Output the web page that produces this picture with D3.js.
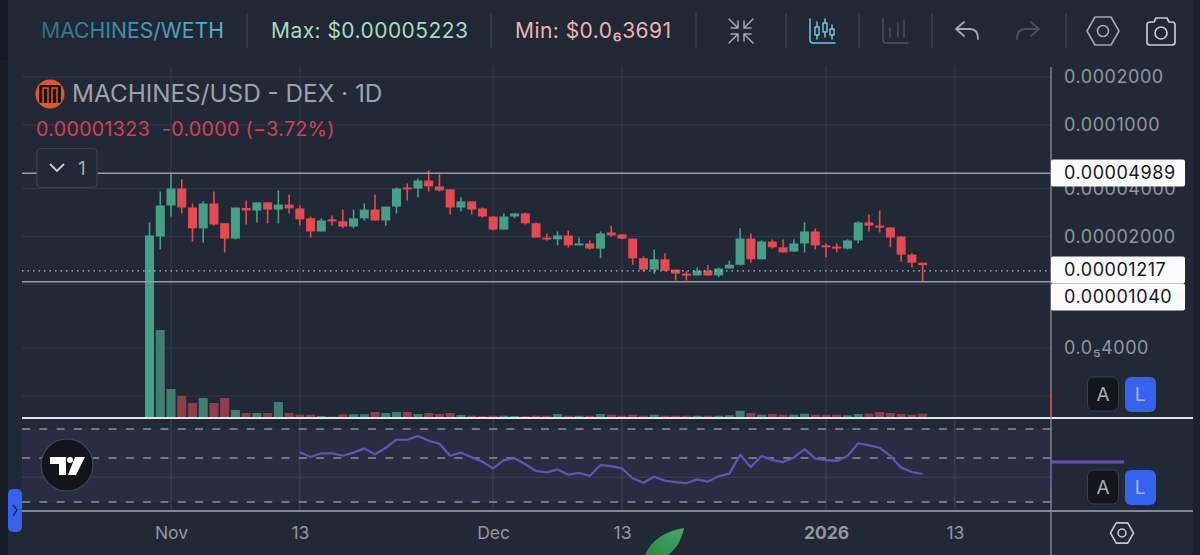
<!DOCTYPE html>
<html>
<head>
<meta charset="utf-8">
<script src="https://d3js.org/d3.v7.min.js"></script>
<style>
html, body { margin: 0; padding: 0; background: #222936; overflow: hidden; }
svg { display: block; font-family: Inter, "Noto Sans", sans-serif; }
.priceAxis text, .timeAxis text { fill: #9196a0; }
</style>
</head>
<body>
<div id="graphic"></div>
<script>
// prices are in units of 0.00001 USD (first open is the pair's min price)
var opens = [0.0369,2.00,3.13,4.00,3.04,2.25,3.22,2.42,1.94,3.02,2.91,3.27,2.95,3.17,3.00,2.60,2.15,2.56,2.49,2.31,2.60,2.95,2.52,3.08,4.06,4.00,4.49,4.12,3.95,3.04,3.32,3.00,2.67,2.21,2.67,2.79,2.42,1.97,1.92,2.03,1.76,1.81,1.68,2.12,2.06,1.94,1.46,1.24,1.44,1.24,1.17,1.14,1.22,1.14,1.26,1.33,1.94,1.44,1.86,1.71,1.61,1.81,2.15,1.76,1.73,1.68,1.89,2.45,2.34,2.28,2.00,1.54,1.37];
var highs = [2.45,3.83,4.97,4.56,3.22,3.32,3.83,2.42,3.04,3.36,3.27,3.27,3.89,3.67,3.13,2.67,2.60,2.71,2.95,2.95,3.22,3.67,3.08,4.06,4.30,4.62,5.19,4.90,3.95,3.52,3.32,3.04,2.67,2.79,2.79,2.83,2.45,2.09,2.15,2.18,1.97,1.89,2.15,2.34,2.06,1.94,1.50,1.66,1.57,1.24,1.21,1.28,1.32,1.28,1.41,2.25,2.09,1.89,1.92,1.92,1.92,2.45,2.25,1.81,1.81,1.92,2.49,2.75,2.91,2.28,2.00,1.57,1.37];
var lows = [0.0369,1.66,2.67,2.79,1.86,1.83,2.34,1.59,1.92,2.38,2.45,2.42,2.42,2.79,2.34,1.97,2.15,2.34,2.25,2.25,2.52,2.52,2.34,2.79,3.36,3.52,3.83,3.83,2.75,2.87,2.75,2.63,2.18,2.21,2.60,2.38,1.97,1.89,1.76,1.71,1.76,1.66,1.46,2.00,1.92,1.33,1.21,1.17,1.21,1.06,1.06,1.14,1.14,1.11,1.26,1.32,1.37,1.44,1.68,1.59,1.61,1.59,1.66,1.48,1.59,1.66,1.81,2.15,2.12,1.71,1.39,1.28,1.04];
var closes = [2.03,3.13,4.00,3.04,2.25,3.22,2.38,1.94,3.04,2.91,3.27,2.95,3.17,3.00,2.56,2.15,2.52,2.49,2.31,2.60,2.95,2.52,3.08,4.00,3.95,4.49,4.12,3.89,3.04,3.32,2.95,2.67,2.21,2.67,2.79,2.42,1.97,1.92,2.03,1.76,1.81,1.68,2.09,2.03,1.94,1.46,1.24,1.44,1.22,1.17,1.14,1.22,1.14,1.26,1.33,1.94,1.44,1.86,1.71,1.59,1.81,2.15,1.76,1.71,1.68,1.89,2.45,2.34,2.28,1.97,1.54,1.37,1.323];
var volumes = [125,88,29,22,15,20,15,20,8,5,5,5,16,5,3.3,3.3,2,1.5,3.7,3.7,3.7,6,5,6,6,4,5,4,5,3,2.3,1.7,2.3,2.3,2,1.7,2.3,2.3,4,2.3,2.3,2.3,4,3.3,2.3,3.3,2.3,3.3,2.3,2.3,2.3,2.3,2.3,2.3,2.7,7.3,5,3.3,4,3.3,3.3,4.3,3.3,3.3,3.3,2.7,4,4.3,6,5,4,3.3,4.3];
// RSI starts 14 days in
var rsi = [53.4,50.6,52.8,52.8,51.3,53.2,55.9,52.2,56.3,61.8,61.8,64.5,61.1,59.0,51.3,53.2,50.4,47.9,44.3,48.8,49.8,46.5,43.0,42.3,43.8,41.2,42.0,40.6,46.1,45.5,44.3,39.5,37.5,40.2,38.4,37.8,37.3,39.0,38.0,40.4,41.7,51.9,44.9,51.2,48.8,47.7,50.2,55.5,49.6,48.8,48.3,51.2,59.3,57.9,56.3,51.2,44.7,42.5,41.5];

var priceTicks = [2e-4, 1e-4, 4e-5, 2e-5, 4e-6];
var priceTickLabels = ["0.0002000", "0.0001000", "0.00004000", "0.00002000", "0.0\u20854000"];
var priceGrid = [2e-4, 1e-4, 4e-5, 2e-5, 1e-5, 4e-6, 2e-6];
var levels = [{price: 4.989e-5, label: "0.00004989"}, {price: 1.04e-5, label: "0.00001040"}];
var lastPrice = {price: 1.217e-5, label: "0.00001217"};
var rsiLevels = [70, 50, 30];
var rsiGrid = [40];
var timeTicks = [Date.UTC(2025,10,1), Date.UTC(2025,10,13), Date.UTC(2025,11,1), Date.UTC(2025,11,13), Date.UTC(2026,0,1), Date.UTC(2026,0,13)];
var timeTickLabels = ["Nov", "13", "Dec", "13", "2026", "13"];
var days = d3.utcDay.range(Date.UTC(2025,9,30), Date.UTC(2026,0,11));

var left = 22, axisX = 1051, edge = 1193;
var paneTop = 62, paneBottom = 418, rsiBottom = 511;
var green = "#45a088", red = "#e8484f";
var up = function(i) { return closes[i] >= opens[i]; };

var svg = d3.select("#graphic").append("svg").attr("width", 1200).attr("height", 555);
var defs = svg.append("defs");
defs.append("clipPath").attr("id", "mainClip").append("rect")
    .attr("x", left).attr("y", paneTop).attr("width", axisX - left).attr("height", paneBottom - paneTop);
var grad = defs.append("linearGradient").attr("id", "pairGrad");
grad.append("stop").attr("offset", "0%").attr("stop-color", "#2c6f88");
grad.append("stop").attr("offset", "100%").attr("stop-color", "#52b6da");
var leaf = defs.append("linearGradient").attr("id", "leafGrad").attr("x1", 0).attr("y1", 1).attr("x2", 1).attr("y2", 0);
leaf.append("stop").attr("offset", "0%").attr("stop-color", "#2a8a45");
leaf.append("stop").attr("offset", "100%").attr("stop-color", "#45a866");

// backgrounds
svg.append("rect").attr("width", 1200).attr("height", 555).attr("fill", "#222936");
svg.append("rect").attr("width", 8).attr("height", 555).attr("fill", "#171c27");
svg.append("rect").attr("x", edge).attr("width", 7).attr("height", 555).attr("fill", "#1c222d");
svg.append("rect").attr("width", 1200).attr("height", 60).attr("fill", "#212733");
svg.append("rect").attr("width", 8).attr("height", 60).attr("fill", "#131823");
svg.append("rect").attr("x", edge).attr("width", 7).attr("height", 60).attr("fill", "#1c222d");

var x = d3.scaleUtc().domain([timeTicks[0], timeTicks[4]]).range([171, 826]);
var y = d3.scaleLog().domain([2e-6, 2e-4]).range([396, 77]);
var yRsi = d3.scaleLog().domain([30, 70]).range([502, 429]);
var yVol = d3.scaleLinear().domain([0, 100]).range([paneBottom, paneBottom - 100]);
var price = function(v) { return y(v * 1e-5); };

// rsi band
svg.append("rect").attr("x", left).attr("y", yRsi(70)).attr("width", axisX - left)
    .attr("height", yRsi(30) - yRsi(70)).attr("fill", "#2a2d41");

// grid
svg.append("g").selectAll("line").data(priceGrid).join("line")
    .attr("x1", left).attr("x2", axisX).attr("y1", y).attr("y2", y)
    .attr("stroke", "#323846").attr("stroke-width", 1);
svg.append("g").selectAll("line").data(timeTicks).join("line")
    .attr("x1", x).attr("x2", x).attr("y1", 66).attr("y2", paneBottom)
    .attr("stroke", "#363c49").attr("stroke-width", 1);
svg.append("g").selectAll("line").data(timeTicks).join("line")
    .attr("x1", x).attr("x2", x).attr("y1", paneBottom).attr("y2", rsiBottom)
    .attr("stroke", "#434759").attr("stroke-width", 1);
svg.append("g").selectAll("line").data(rsiGrid).join("line")
    .attr("x1", left).attr("x2", axisX).attr("y1", yRsi).attr("y2", yRsi)
    .attr("stroke", "#3e4256").attr("stroke-width", 1);
svg.append("g").selectAll("line").data(rsiLevels).join("line")
    .attr("x1", left).attr("x2", axisX).attr("y1", yRsi).attr("y2", yRsi)
    .attr("stroke", "#8d9099").attr("stroke-width", 1.6).attr("stroke-dasharray", "8,9.3");

// volume + candles, clipped to the main pane
var main = svg.append("g").attr("clip-path", "url(#mainClip)");
main.selectAll(".vol").data(days).join("rect")
    .attr("class", "vol")
    .attr("x", function(d) { return x(d) - 4.5; })
    .attr("width", 9)
    .attr("y", function(d, i) { return yVol(volumes[i]); })
    .attr("height", function(d, i) { return yVol(0) - yVol(volumes[i]); })
    .attr("fill", function(d, i) { return up(i) ? "#3e7f72" : "#8f3f4b"; });

// horizontal level lines
svg.append("g").selectAll("line").data(levels).join("line")
    .attr("x1", left).attr("x2", axisX)
    .attr("y1", function(d) { return y(d.price); }).attr("y2", function(d) { return y(d.price); })
    .attr("stroke", "#9b9ea7").attr("stroke-width", 1.6);
svg.append("line").attr("x1", left).attr("x2", axisX)
    .attr("y1", y(lastPrice.price)).attr("y2", y(lastPrice.price))
    .attr("stroke", "#b9bcc3").attr("stroke-width", 1.3).attr("stroke-dasharray", "1.5,4");

main.selectAll(".wick").data(days).join("line")
    .attr("class", "wick")
    .attr("x1", x).attr("x2", x)
    .attr("y1", function(d, i) { return price(highs[i]); })
    .attr("y2", function(d, i) { return price(lows[i]); })
    .attr("stroke", function(d, i) { return up(i) ? green : red; })
    .attr("stroke-width", 1.6);
main.selectAll(".body").data(days).join("rect")
    .attr("class", "body")
    .attr("x", function(d) { return x(d) - 4.5; })
    .attr("width", 9)
    .attr("y", function(d, i) { return price(Math.max(opens[i], closes[i])); })
    .attr("height", function(d, i) {
        return Math.max(2, price(Math.min(opens[i], closes[i])) - price(Math.max(opens[i], closes[i])));
    })
    .attr("fill", function(d, i) { return up(i) ? green : red; });

// rsi line
var rsiLine = d3.line()
    .x(function(d, i) { return x(days[i + 14]); })
    .y(function(d) { return yRsi(d); });
svg.append("path").datum(rsi)
    .attr("fill", "none").attr("stroke", "#6652b5").attr("stroke-width", 2.2)
    .attr("stroke-linejoin", "round").attr("d", rsiLine);

// pane separators and price axis line
svg.append("line").attr("x1", left).attr("x2", edge).attr("y1", paneBottom).attr("y2", paneBottom)
    .attr("stroke", "#e4e6ea").attr("stroke-width", 2);
svg.append("line").attr("x1", left).attr("x2", edge).attr("y1", rsiBottom).attr("y2", rsiBottom)
    .attr("stroke", "#a4a7af").attr("stroke-width", 1.3);
svg.append("line").attr("x1", axisX).attr("x2", axisX).attr("y1", 67).attr("y2", 555)
    .attr("stroke", "#8b8f98").attr("stroke-width", 1.3);

// price axis
var gy = svg.append("g").attr("class", "priceAxis").attr("transform", "translate(1064,0)")
    .call(d3.axisRight(y).tickValues(priceTicks).tickSize(0).tickPadding(0)
        .tickFormat(function(d, i) { return priceTickLabels[i]; }));
gy.select(".domain").remove();
gy.selectAll("text").attr("font-size", 18).attr("font-family", "Inter, sans-serif").attr("letter-spacing", 0.55);

// time axis
var gx = svg.append("g").attr("class", "timeAxis").attr("transform", "translate(0,527)")
    .call(d3.axisBottom(x).tickValues(timeTicks).tickSize(0).tickPadding(0)
        .tickFormat(function(d, i) { return timeTickLabels[i]; }));
gx.select(".domain").remove();
gx.selectAll("text").attr("font-size", 17.5).attr("font-family", "Inter, sans-serif")
    .attr("font-weight", function(d, i) { return timeTickLabels[i] === "2026" ? 700 : 400; });

// price labels on white
var tags = [levels[0], lastPrice, levels[1]];
var tagY = [173, 270, 297];
tags.forEach(function(t, i) {
    svg.append("rect").attr("x", axisX).attr("y", tagY[i] - 13.5).attr("width", 134).attr("height", 27)
        .attr("rx", 2).attr("fill", "#fbfbfc");
    svg.append("text").attr("x", 1064).attr("y", tagY[i]).attr("dy", "0.35em")
        .attr("font-size", 18).attr("letter-spacing", 0.55).attr("fill", "#15181f").text(t.label);
});

// current volume / rsi markers on the axis
svg.append("line").attr("x1", axisX).attr("x2", axisX).attr("y1", 392).attr("y2", 417).attr("stroke", "#d2404b").attr("stroke-width", 1.6);
svg.append("line").attr("x1", axisX).attr("x2", axisX).attr("y1", 462).attr("y2", 487).attr("stroke", "#6652b5").attr("stroke-width", 1.6);
svg.append("line").attr("x1", axisX).attr("x2", 1124).attr("y1", yRsi(rsi[rsi.length - 1]) - 12).attr("y2", yRsi(rsi[rsi.length - 1]) - 12).attr("stroke", "#6652b5").attr("stroke-width", 3);

// header
svg.append("text").attr("x", 41).attr("y", 38).attr("font-size", 21.2).attr("fill", "url(#pairGrad)").text("MACHINES/WETH");
svg.append("text").attr("x", 271).attr("y", 38).attr("font-size", 21).attr("letter-spacing", 0.45).attr("fill", "#a3dcc3").text("Max: $0.00005223");
svg.append("text").attr("x", 515).attr("y", 38).attr("font-size", 21).attr("letter-spacing", 0.45).attr("fill", "#eab4b4").text("Min: $0.0\u20863691");
[247, 491, 696, 786, 859, 932, 1066].forEach(function(px) {
    svg.append("line").attr("x1", px).attr("x2", px).attr("y1", 13).attr("y2", 48).attr("stroke", "#3f4551").attr("stroke-width", 1.3);
});

var icon = function(tx, ty, color, sw) {
    return svg.append("g").attr("transform", "translate(" + tx + "," + ty + ")")
        .attr("fill", "none").attr("stroke", color).attr("stroke-width", sw || 1.5)
        .attr("stroke-linecap", "round").attr("stroke-linejoin", "round");
};
var ic = icon(741, 31, "#a4a8b0");
ic.append("path").attr("d", "M-12,-12 L-3,-3 M-3,-10 V-3 H-10 M12,-12 L3,-3 M3,-10 V-3 H10 M-12,12 L-3,3 M-3,10 V3 H-10 M12,12 L3,3 M3,10 V3 H10");
ic = icon(822, 31, "#74c6dc");
ic.append("path").attr("d", "M-12,-12 V9 Q-12,12 -9,12 H13");
ic.append("path").attr("d", "M-5,-9 V8 M3,-12 V6 M10,-6 V8");
ic.append("rect").attr("x", -7).attr("y", -4).attr("width", 4).attr("height", 8).attr("fill", "#222936");
ic.append("rect").attr("x", 1).attr("y", -8).attr("width", 4).attr("height", 9).attr("fill", "#222936");
ic.append("rect").attr("x", 8).attr("y", -2).attr("width", 4).attr("height", 6).attr("fill", "#222936");
ic = icon(895, 31, "#4a505c");
ic.append("path").attr("d", "M-12,-12 V9 Q-12,12 -9,12 H13 M-5,-3 V6 M3,-8 V6 M9,-11 V6");
ic = icon(967, 31, "#a4a8b0", 1.8);
ic.append("path").attr("d", "M-11,-2 H3 Q11,-2 11,8 M-3,-9 L-11,-2 L-3,5");
ic = icon(1028, 31, "#4a505c", 1.8);
ic.append("path").attr("d", "M11,-2 H-3 Q-11,-2 -11,8 M3,-9 L11,-2 L3,5");
var hex = function(tx, ty, s, color, sw) {
    var g = icon(tx, ty, color, sw);
    g.append("path").attr("d", "M" + (-16 * s) + ",0 L" + (-8 * s) + "," + (-14 * s) + " H" + (8 * s) + " L" + (16 * s) + ",0 L" + (8 * s) + "," + (14 * s) + " H" + (-8 * s) + " Z");
    g.append("circle").attr("r", 5.5 * s);
};
hex(1103, 31, 1, "#a4a8b0", 1.6);
hex(1122, 533, 0.72, "#c4c7cd", 1.6);
ic = icon(1161, 31, "#c8cad0", 1.7);
ic.append("path").attr("d", "M-11,-9 H-7 L-5,-13 H6 L8,-9 H11 Q14,-9 14,-6 V11 Q14,14 11,14 H-11 Q-14,14 -14,11 V-6 Q-14,-9 -11,-9 Z");
ic.append("circle").attr("cy", 2).attr("r", 6);

// legend
var logo = svg.append("g").attr("transform", "translate(50,94)");
logo.append("circle").attr("r", 14.5).attr("fill", "#e8552a");
logo.append("rect").attr("x", -11).attr("y", -9).attr("width", 22).attr("height", 18).attr("rx", 2).attr("fill", "#14141a");
logo.append("path").attr("d", "M-7,9 V-6 L-2,-6 V9 M2,9 V-6 L7,-6 V9").attr("fill", "none").attr("stroke", "#e8552a").attr("stroke-width", 1.5);
svg.append("text").attr("x", 72).attr("y", 102).attr("font-size", 24.3).attr("fill", "#9da1aa").text("MACHINES/USD - DEX \u00b7 1D");
svg.append("text").attr("x", 36).attr("y", 136).attr("font-size", 19.6).attr("letter-spacing", 0.35).attr("fill", "#d5414c").attr("xml:space", "preserve").text("0.00001323  -0.0000 (\u22123.72%)");
svg.append("rect").attr("x", 37).attr("y", 148.5).attr("width", 60).attr("height", 39).attr("rx", 4).attr("fill", "#222936").attr("stroke", "#3a404c").attr("stroke-width", 1.2);
svg.append("path").attr("d", "M50,164 L57,171 L64,164").attr("fill", "none").attr("stroke", "#c9cbd1").attr("stroke-width", 1.8);
svg.append("text").attr("x", 78).attr("y", 175).attr("font-size", 19).attr("fill", "#a4a8b0").text("1");

// A / L buttons
[377, 470].forEach(function(by) {
    svg.append("rect").attr("x", 1087.5).attr("y", by).attr("width", 31).attr("height", 34).attr("rx", 6).attr("fill", "#14161e").attr("stroke", "#3a3f4a");
    svg.append("text").attr("x", 1103).attr("y", by + 24).attr("text-anchor", "middle").attr("font-size", 19).attr("fill", "#a9acb3").text("A");
    svg.append("rect").attr("x", 1125).attr("y", by).attr("width", 31).attr("height", 35).attr("rx", 6).attr("fill", "#3563ee");
    svg.append("text").attr("x", 1140).attr("y", by + 24).attr("text-anchor", "middle").attr("font-size", 19).attr("fill", "#a9b8e2").text("L");
});

// tradingview badge
var tv = svg.append("g").attr("transform", "translate(67,465)");
tv.append("circle").attr("r", 26).attr("fill", "#14141c").attr("stroke", "#44475a").attr("stroke-width", 1.2);
tv.append("path").attr("fill", "#fff").attr("d", "M-17,-8 H-1 V10 H-8 V-1 H-17 Z M8,-8 H18 L9,10 H1 Z");
tv.append("circle").attr("cx", 3).attr("cy", -5).attr("r", 3).attr("fill", "#fff");

// side tab
svg.append("rect").attr("x", 8).attr("y", 489).attr("width", 14).attr("height", 43).attr("rx", 5).attr("fill", "#3563ee");
svg.append("path").attr("d", "M13,505 L17,510 L13,516").attr("fill", "none").attr("stroke", "#1b2a57").attr("stroke-width", 1.4);

// green blob from the photo at the bottom edge
svg.append("path").attr("d", "M645,555 C651,541 664,531 684,528 C682,539 676,549 668,555 Z").attr("fill", "url(#leafGrad)");
</script>
</body>
</html>
